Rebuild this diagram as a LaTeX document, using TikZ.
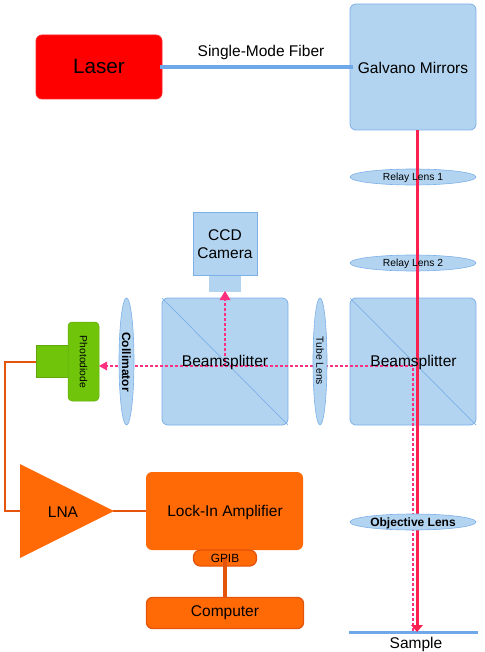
\documentclass[tikz,border=0pt]{standalone}
\usepackage{fontspec}
\setmainfont{Liberation Sans}
\usetikzlibrary{shapes.geometric,arrows.meta,calc}
\definecolor{lblue}{HTML}{B2D4F0}
\definecolor{bblue}{HTML}{7DB0E8}
\definecolor{fiber}{HTML}{6FA8E8}
\definecolor{lgreen}{HTML}{70C50A}
\definecolor{dgreen}{HTML}{62A80C}
\definecolor{orng}{HTML}{FF6A06}
\definecolor{dorng}{HTML}{E4540A}
\definecolor{redbeam}{HTML}{FA2050}
\definecolor{pinkbeam}{HTML}{FF3080}
\newcommand{\fs}[1]{\fontsize{#1}{#1}\selectfont}
\tikzset{
  box/.style={draw=bblue,fill=lblue,line width=0.8pt,inner sep=0pt,outer sep=0pt,rounded corners=6pt},
  sqbox/.style={draw=bblue,fill=lblue,line width=0.8pt,inner sep=0pt,outer sep=0pt},
  lens/.style={ellipse,draw=bblue,fill=lblue,line width=0.6pt,inner sep=0pt,outer sep=0pt},
  obox/.style={fill=orng,inner sep=0pt,outer sep=0pt,rounded corners=6pt},
  wire/.style={draw=dorng,line width=2.6pt},
  txt/.style={inner sep=0pt,outer sep=0pt,text=black,font=\fs{15.5},align=center,yshift=-1pt},
  small/.style={inner sep=0pt,outer sep=0pt,text=black,font=\fs{10.3},yshift=-1pt},
  boldt/.style={inner sep=0pt,outer sep=0pt,text=black,font=\fs{12}\bfseries},
  redb/.style={draw=redbeam,line width=3pt},
  pinkb/.style={draw=pinkbeam,line width=2pt,dash pattern=on 3pt off 2pt},
  pinkhead/.style={fill=pinkbeam},
}
\begin{document}
\begin{tikzpicture}[x=1pt,y=-1pt]
\useasboundingbox (0,0) rectangle (484,652);
% solid shapes
\node[draw=red!85!white,fill=red,line width=0.8pt,inner sep=0pt,outer sep=0pt,rounded corners=6pt,minimum width=126pt,minimum height=64pt] (laser) at (99,67) {};
\node[box,minimum width=126pt,minimum height=126pt] (gm) at (413,67) {};
\node[box,minimum width=126pt,minimum height=127pt] (bsa) at (225,361.5) {};
\node[box,minimum width=126pt,minimum height=127pt] (bsb) at (413,361.5) {};
\draw[draw=bblue,line width=0.7pt] (bsa.north west) -- (bsa.south east);
\draw[draw=bblue,line width=0.7pt] (bsb.north west) -- (bsb.south east);
\node[sqbox,minimum width=64pt,minimum height=63pt] (ccd) at (225,243.5) {};
\node[fill=lblue,inner sep=0pt,outer sep=0pt,minimum width=32pt,minimum height=16pt] (ccdb) at (225,283.5) {};
\node[lens,minimum width=126pt,minimum height=16pt] (rla) at (413,177) {};
\node[lens,minimum width=126pt,minimum height=16pt] (rlb) at (413,263) {};
% photodiode
\node[fill=lgreen,draw=dgreen,line width=0.5pt,inner sep=0pt,outer sep=0pt,minimum width=32pt,minimum height=32pt] (pdb) at (52,361.5) {};
\node[fill=lgreen,draw=dgreen,line width=0.5pt,inner sep=0pt,outer sep=0pt,rounded corners=4pt,minimum width=31pt,minimum height=79pt] (pd) at (83.5,361.5) {};
% electronics
\coordinate (lnaL) at (20,511);
\coordinate (lnaR) at (113,511);
\coordinate (wireb) at (5,362);
\coordinate (wirec) at (5,511);
\node[obox,minimum width=157pt,minimum height=78pt] (lock) at (224.5,511) {};
\draw[wire] (pdb.west |- wireb) -- (wireb) -- (wirec) -- (lnaL);
\draw[wire] (lnaR) -- (lock.west);
\fill[orng] (20,464) -- (114,511) -- (20,558) -- cycle;
\node[draw=dorng,fill=orng,line width=1.3pt,inner sep=0pt,outer sep=0pt,rounded corners=7pt,minimum width=63pt,minimum height=16pt] (gpib) at (225,558) {};
\node[draw=dorng,fill=orng,line width=1.3pt,inner sep=0pt,outer sep=0pt,rounded corners=6pt,minimum width=157pt,minimum height=31pt] (comp) at (225,613) {};
\draw[draw=dorng,line width=4pt] ($(gpib.center)+(0,-1)$) -- (comp.north);
% fiber
\draw[draw=fiber,line width=3.4pt] ($(laser.east)+(-2,0)$) -- ($(gm.west)+(3,0)$);
% sample
\coordinate (sampleL) at (349,632.5);
\coordinate (sampleR) at (478,632.5);
\draw[draw=fiber,line width=3.4pt] (sampleL) -- (sampleR);
% beams
\coordinate (redtop) at (417,130);
\coordinate (redbot) at (417,625);
\coordinate (pinktop) at (413,366);
\coordinate (pinkbot) at (413,631);
\coordinate (pinkL) at (107,366);
\coordinate (pinkU) at (225,299);
\coordinate (pinkM) at (225,366);
\draw[pinkb] (pinkbot) -- (pinktop) -- (pinkL);
\draw[pinkb] (pinkM) -- (pinkU);
\draw[redb] (redtop) -- (redbot);
\fill[redbeam] (411,625) -- (423,625) -- (417,632) -- cycle;
\fill[pinkhead] (99,366) -- (107,361.5) -- (107,370.5) -- cycle;
\fill[pinkhead] (225,291) -- (219.5,300) -- (230.5,300) -- cycle;
% lenses over the beams
\node[lens,minimum width=15pt,minimum height=127pt] (coll) at (126.5,361.5) {};
\node[lens,minimum width=14pt,minimum height=127pt] (tube) at (320,361.5) {};
\node[lens,minimum width=126pt,minimum height=16pt] (obj) at (413,522) {};
% texts
\node[inner sep=0pt,text=black,font=\fs{20.7}] (tlaser) at (99,66) {Laser};
\node[txt] (tfiber) at (261,51) {Single-Mode Fiber};
\node[txt] (tgm) at (413,67) {Galvano Mirrors};
\node[small] (trla) at (413,177) {Relay Lens 1};
\node[small] (trlb) at (413,263) {Relay Lens 2};
\node[txt] (tccda) at (225,234) {CCD};
\node[txt] (tccdb) at (225,252) {Camera};
\node[txt] (tbsa) at (225,361) {Beamsplitter};
\node[txt] (tbsb) at (413.5,361) {Beamsplitter};
\node[boldt,rotate=-90] (tcoll) at (126.5,362) {Collimator};
\node[small,rotate=-90] (ttube) at (320,360) {Tube Lens};
\node[small,rotate=-90] (tpd) at (83.5,361) {Photodiode};
\node[boldt] (tobj) at (413,523) {Objective Lens};
\node[txt] (tsample) at (416,643) {Sample};
\node[txt] (tlna) at (63,511) {LNA};
\node[txt] (tlock) at (225,511) {Lock-In Amplifier};
\node[inner sep=0pt,text=black,font=\fs{11.9}] (tgpib) at (225,558) {GPIB};
\node[txt] (tcomp) at (225,612) {Computer};
\end{tikzpicture}
\end{document}
